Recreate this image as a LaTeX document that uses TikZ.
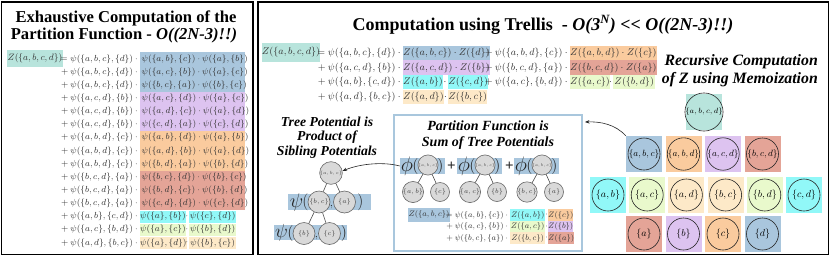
\RequirePackage{fix-cm}
\documentclass[tikz,border=0pt]{standalone}
\usepackage{fontspec}
\setmainfont{Liberation Serif}
\usetikzlibrary{arrows.meta}
\definecolor{cabcd}{HTML}{B8E4DC}
\definecolor{cblue}{HTML}{A9C6DD}
\definecolor{corange}{HTML}{FACB9E}
\definecolor{clav}{HTML}{DDC3F0}
\definecolor{csalmon}{HTML}{E4A497}
\definecolor{ccyan}{HTML}{91F8F8}
\definecolor{cgreen}{HTML}{E9F9CC}
\definecolor{cpeach}{HTML}{FDE9C8}
\definecolor{pfblue}{HTML}{A9C7DD}
\definecolor{eqtext}{HTML}{333333}
\newcommand{\Ps}[2]{\psi(\{#1\},\{#2\})}
\newcommand{\Zs}[1]{Z(\{#1\})}
\begin{document}
\begin{tikzpicture}[x=1pt,y=-1pt,
 panel/.style={draw=black,line width=1.6pt},
 ttl/.style={font=\fontsize{16.6}{17}\selectfont\bfseries,inner sep=0pt},
 bttl/.style={font=\fontsize{18}{18}\selectfont\bfseries,inner sep=0pt},
 subA/.style={font=\fontsize{13.7}{14.5}\selectfont\bfseries\itshape,align=center,inner sep=0pt},
 subB/.style={font=\fontsize{14}{16}\selectfont\bfseries\itshape,align=center,inner sep=0pt},
 subC/.style={font=\fontsize{15.8}{18}\selectfont\bfseries\itshape,align=right,inner sep=0pt},
 leq/.style={font=\fontsize{8.8}{9}\selectfont,text=eqtext,inner sep=0pt},
 req/.style={font=\fontsize{9.8}{10}\selectfont,text=eqtext,inner sep=0pt},
 peq/.style={font=\fontsize{8}{9}\selectfont,text=eqtext,inner sep=0pt},
 hl/.style={fill=#1,inner sep=0pt},
 msq/.style={fill=#1,minimum size=36pt,inner sep=0pt},
 mc/.style={circle,draw=black!85,line width=0.6pt,minimum size=32pt,inner sep=0pt,font=\fontsize{#1}{#1}\selectfont},
 tc/.style={circle,draw=black!60,fill=gray!30,line width=0.6pt,minimum size=#1,inner sep=0pt,text=black!75},
 edge/.style={draw=black!70,line width=0.6pt},
 big/.style={font=\fontsize{#1}{#1}\selectfont,inner sep=0pt,text=black!85},
 arr/.style={-{Stealth[length=4.5pt,width=3.5pt]},line width=0.6pt,draw=black!85},
]
\useasboundingbox (0,0) rectangle (831,258);
\fill[white] (0,0) rectangle (831,258);

% ---------------- left panel ----------------
\draw[panel] (1.5,2) rectangle (253,254.5);
\node[ttl] (lt1) at (126,18) {Exhaustive Computation of the};
\node[ttl] (lt2) at (124,35.5) {Partition Function - \textit{O((2N-3)!!)}};

\fill[cblue] (140,52.2) rectangle (245,91.7);
\fill[clav] (140,91.7) rectangle (245,131.15);
\fill[corange] (140,131.15) rectangle (245,170.6);
\fill[csalmon] (140,170.6) rectangle (245,210.05);

\node[leq,hl=cabcd,minimum width=56pt,minimum height=17pt,font=\fontsize{9.2}{10}\selectfont] (lz) at (35,58.5) {$\Zs{a,b,c,d}$};

\node[leq,anchor=east] (l0) at (140,58.8) {$=\Ps{a,b,c}{d}\cdot{}$};
\node[leq,anchor=west] (h0) at (141.5,58.8) {$\Ps{a,b}{c}\cdot\Ps{a}{b}$};
\node[leq,anchor=east] (l1) at (140,71.95) {${}+\Ps{a,b,c}{d}\cdot{}$};
\node[leq,anchor=west] (h1) at (141.5,71.95) {$\Ps{a,c}{b}\cdot\Ps{a}{c}$};
\node[leq,anchor=east] (l2) at (140,85.1) {${}+\Ps{a,b,c}{d}\cdot{}$};
\node[leq,anchor=west] (h2) at (141.5,85.1) {$\Ps{b,c}{a}\cdot\Ps{b}{c}$};
\node[leq,anchor=east] (l3) at (140,98.25) {${}+\Ps{a,c,d}{b}\cdot{}$};
\node[leq,anchor=west] (h3) at (141.5,98.25) {$\Ps{a,c}{d}\cdot\Ps{a}{c}$};
\node[leq,anchor=east] (l4) at (140,111.4) {${}+\Ps{a,c,d}{b}\cdot{}$};
\node[leq,anchor=west] (h4) at (141.5,111.4) {$\Ps{a,d}{c}\cdot\Ps{a}{d}$};
\node[leq,anchor=east] (l5) at (140,124.55) {${}+\Ps{a,c,d}{b}\cdot{}$};
\node[leq,anchor=west] (h5) at (141.5,124.55) {$\Ps{c,d}{a}\cdot\Ps{c}{d}$};
\node[leq,anchor=east] (l6) at (140,137.7) {${}+\Ps{a,b,d}{c}\cdot{}$};
\node[leq,anchor=west] (h6) at (141.5,137.7) {$\Ps{a,b}{d}\cdot\Ps{a}{b}$};
\node[leq,anchor=east] (l7) at (140,150.85) {${}+\Ps{a,b,d}{c}\cdot{}$};
\node[leq,anchor=west] (h7) at (141.5,150.85) {$\Ps{a,d}{b}\cdot\Ps{a}{d}$};
\node[leq,anchor=east] (l8) at (140,164) {${}+\Ps{a,b,d}{c}\cdot{}$};
\node[leq,anchor=west] (h8) at (141.5,164) {$\Ps{b,d}{a}\cdot\Ps{b}{d}$};
\node[leq,anchor=east] (l9) at (140,177.15) {${}+\Ps{b,c,d}{a}\cdot{}$};
\node[leq,anchor=west] (h9) at (141.5,177.15) {$\Ps{b,c}{d}\cdot\Ps{b}{c}$};
\node[leq,anchor=east] (l10) at (140,190.3) {${}+\Ps{b,c,d}{a}\cdot{}$};
\node[leq,anchor=west] (h10) at (141.5,190.3) {$\Ps{b,d}{c}\cdot\Ps{b}{d}$};
\node[leq,anchor=east] (l11) at (140,203.45) {${}+\Ps{b,c,d}{a}\cdot{}$};
\node[leq,anchor=west] (h11) at (141.5,203.45) {$\Ps{c,d}{d}\cdot\Ps{c}{d}$};

\node[leq,anchor=east] (l12) at (140,216.6) {${}+\Ps{a,b}{c,d}\cdot{}$};
\node[leq,hl=ccyan,anchor=west,minimum width=45pt,minimum height=12pt] (h12a) at (140,216.6) {$\Ps{a}{b}$};
\node[leq] (d12) at (187,216.6) {$\cdot$};
\node[leq,hl=ccyan,anchor=west,minimum width=47pt,minimum height=12pt] (h12b) at (189,216.6) {$\Ps{c}{d}$};
\node[leq,anchor=east] (l13) at (140,229.75) {${}+\Ps{a,c}{b,d}\cdot{}$};
\node[leq,hl=cgreen,anchor=west,minimum width=45pt,minimum height=12pt] (h13a) at (140,229.75) {$\Ps{a}{c}$};
\node[leq] (d13) at (187,229.75) {$\cdot$};
\node[leq,hl=cgreen,anchor=west,minimum width=47pt,minimum height=12pt] (h13b) at (189,229.75) {$\Ps{b}{d}$};
\node[leq,anchor=east] (l14) at (140,242.9) {${}+\Ps{a,d}{b,c}\cdot{}$};
\node[leq,hl=cpeach,anchor=west,minimum width=45pt,minimum height=12pt] (h14a) at (140,242.9) {$\Ps{a}{d}$};
\node[leq] (d14) at (187,242.9) {$\cdot$};
\node[leq,hl=cpeach,anchor=west,minimum width=47pt,minimum height=12pt] (h14b) at (189,242.9) {$\Ps{b}{c}$};

% ---------------- right panel ----------------
\draw[panel] (258,2) rectangle (828.5,254.5);
\node[bttl] (rt) at (543,25) {Computation using Trellis\ \ - \textit{O(3\textsuperscript{N}) {<}{<} O((2N-3)!!)}};
\node[subC,anchor=east] (ml) at (818,71) {Recursive Computation\\of Z using Memoization};

\node[req,hl=cabcd,minimum width=58pt,minimum height=19pt] (rz) at (291,52.5) {$\Zs{a,b,c,d}$};
\node[req,anchor=east] (r0a) at (403,53) {$=\Ps{a,b,c}{d}\cdot{}$};
\node[req,hl=cblue,anchor=west,minimum width=85pt,minimum height=14.6pt] (r0b) at (403,53) {$\Zs{a,b,c}\cdot\Zs{d}$};
\node[req,anchor=east] (r0c) at (570,53) {${}+\Ps{a,b,d}{c}\cdot{}$};
\node[req,hl=corange,anchor=west,minimum width=85pt,minimum height=14.6pt] (r0d) at (570,53) {$\Zs{a,b,d}\cdot\Zs{c}$};

\node[req,anchor=east] (r1a) at (403,67.6) {${}+\Ps{a,c,d}{b}\cdot{}$};
\node[req,hl=clav,anchor=west,minimum width=85pt,minimum height=14.6pt] (r1b) at (403,67.6) {$\Zs{a,c,d}\cdot\Zs{b}$};
\node[req,anchor=east] (r1c) at (570,67.6) {${}+\Ps{b,c,d}{a}\cdot{}$};
\node[req,hl=csalmon,anchor=west,minimum width=85pt,minimum height=14.6pt] (r1d) at (570,67.6) {$\Zs{b,c,d}\cdot\Zs{a}$};

\node[req,anchor=east] (r2a) at (403,82.2) {${}+\Ps{a,b}{c,d}\cdot{}$};
\node[req,hl=ccyan,anchor=west,minimum width=39pt,minimum height=14pt] (r2b) at (403,82.2) {$\Zs{a,b}$};
\node[req] (r2x) at (445,82.2) {$\cdot$};
\node[req,hl=ccyan,anchor=west,minimum width=40pt,minimum height=14pt] (r2c) at (448,82.2) {$\Zs{c,d}$};
\node[req,anchor=east] (r2d) at (570,82.2) {${}+\Ps{a,c}{b,d}\cdot{}$};
\node[req,hl=cgreen,anchor=west,minimum width=38pt,minimum height=14pt] (r2e) at (570,82.2) {$\Zs{a,c}$};
\node[req] (r2y) at (610.5,82.2) {$\cdot$};
\node[req,hl=cgreen,anchor=west,minimum width=42pt,minimum height=14pt] (r2f) at (613,82.2) {$\Zs{b,d}$};

\node[req,anchor=east] (r3a) at (403,96.8) {${}+\Ps{a,d}{b,c}\cdot{}$};
\node[req,hl=cpeach,anchor=west,minimum width=40pt,minimum height=14pt] (r3b) at (403,96.8) {$\Zs{a,d}$};
\node[req] (r3x) at (445.5,96.8) {$\cdot$};
\node[req,hl=cpeach,anchor=west,minimum width=39pt,minimum height=14pt] (r3c) at (448,96.8) {$\Zs{b,c}$};

% ---- tree potential ----
\node[subA] (tt) at (327,137.5) {Tree Potential is\\Product of\\Sibling Potentials};
\node[hl=cblue,minimum width=83pt,minimum height=16pt] (th1) at (329.5,202) {};
\node[hl=cblue,minimum width=73pt,minimum height=15pt] (th2) at (310.5,232.5) {};
\node[tc=22pt,font=\fontsize{4.5}{5}\selectfont] (troot) at (331,173) {$\{a,b,c\}$};
\node[tc=22pt,font=\fontsize{6.5}{7}\selectfont] (tbc) at (319,202) {$\{b,c\}$};
\node[tc=22pt,font=\fontsize{6.5}{7}\selectfont] (ta) at (344.5,202) {$\{a\}$};
\node[tc=22pt,font=\fontsize{6.5}{7}\selectfont] (tb) at (304,233.5) {$\{b\}$};
\node[tc=22pt,font=\fontsize{6.5}{7}\selectfont] (tcc) at (329.5,233.5) {$\{c\}$};
\draw[edge] (troot) -- (tbc);
\draw[edge] (troot) -- (ta);
\draw[edge] (tbc) -- (tb);
\draw[edge] (tbc) -- (tcc);
\node[big=20] (tpsi1) at (296.5,202) {$\psi$};
\node[big=17] (tpo1) at (305.5,202) {$($};
\node[big=12] (tcm1) at (331.5,207) {$,$};
\node[big=17] (tpc1) at (360.5,202) {$)$};
\node[big=19] (tpsi2) at (281.5,233) {$\psi$};
\node[big=16] (tpo2) at (290.5,233) {$($};
\node[big=12] (tcm2) at (316.5,238) {$,$};
\node[big=16] (tpc2) at (344,233) {$)$};

% ---- partition function box ----
\node[draw=pfblue,line width=2.5pt,minimum width=188pt,minimum height=136pt,inner sep=0pt] (pf) at (488,183) {};
\node[subB] (pt) at (488,135) {Partition Function is\\Sum of Tree Potentials};
\foreach \g/\cx/\la/\lb in {1/428/{a,b}/{c},2/485/{a,c}/{b},3/542/{b,c}/{a}}{
  \node[hl=cblue,minimum width=45pt,minimum height=16pt] (phg\g) at (\cx-5.5,166) {};
  \node[big=21] (phi\g) at (\cx-21,166) {$\phi$};
  \node[big=16] (pho\g) at (\cx-12.5,166) {$($};
  \node[big=16] (phc\g) at (\cx+12.5,166) {$)$};
  \node[tc=19pt,font=\fontsize{4}{4}\selectfont] (pp\g) at (\cx,165) {$\{a,b,c\}$};
  \node[tc=19pt,font=\fontsize{6.5}{7}\selectfont] (pa\g) at (\cx-15,192) {$\{\la\}$};
  \node[tc=19pt,font=\fontsize{6.5}{7}\selectfont] (pb\g) at (\cx+12,192) {$\{\lb\}$};
  \draw[edge] (pp\g) -- (pa\g);
  \draw[edge] (pp\g) -- (pb\g);
}
\node[big=15,font=\fontsize{15}{15}\selectfont\bfseries] (plus1) at (451.5,166) {+};
\node[big=15,font=\fontsize{15}{15}\selectfont\bfseries] (plus2) at (509.5,166) {+};

\node[peq,hl=cblue,minimum width=42pt,minimum height=14pt] (pz) at (429,214.5) {$\Zs{a,b,c}$};
\node[peq,anchor=east] (pr0a) at (510,215) {$=\Ps{a,b}{c}\cdot{}$};
\node[peq,hl=ccyan,anchor=west,minimum width=35pt,minimum height=11.5pt] (pr0b) at (510,215) {$\Zs{a,b}$};
\node[peq] (pr0x) at (546.5,215) {$\cdot$};
\node[peq,hl=corange,anchor=west,minimum width=25pt,minimum height=11.5pt] (pr0c) at (548,215) {$\Zs{c}$};
\node[peq,anchor=east] (pr1a) at (510,226.5) {${}+\Ps{a,c}{b}\cdot{}$};
\node[peq,hl=cgreen,anchor=west,minimum width=35pt,minimum height=11.5pt] (pr1b) at (510,226.5) {$\Zs{a,c}$};
\node[peq] (pr1x) at (546.5,226.5) {$\cdot$};
\node[peq,hl=clav,anchor=west,minimum width=25pt,minimum height=11.5pt] (pr1c) at (548,226.5) {$\Zs{b}$};
\node[peq,anchor=east] (pr2a) at (510,238) {${}+\Ps{b,c}{a}\cdot{}$};
\node[peq,hl=cpeach,anchor=west,minimum width=35pt,minimum height=11.5pt] (pr2b) at (510,238) {$\Zs{b,c}$};
\node[peq] (pr2x) at (546.5,238) {$\cdot$};
\node[peq,hl=csalmon,anchor=west,minimum width=25pt,minimum height=11.5pt] (pr2c) at (548,238) {$\Zs{a}$};

% ---- memoization trellis ----
\node[msq=cabcd] (sabcd) at (704,112) {};
\node[mc=7.5] (mabcd) at (sabcd) {$\{a,b,c,d\}$};
\node[msq=cblue] (sabc) at (644,154) {};
\node[mc=9] (mabc) at (sabc) {$\{a,b,c\}$};
\node[msq=corange] (sabd) at (683.5,154) {};
\node[mc=9] (mabd) at (sabd) {$\{a,b,d\}$};
\node[msq=clav] (sacd) at (723,154) {};
\node[mc=9] (macd) at (sacd) {$\{a,c,d\}$};
\node[msq=csalmon] (sbcd) at (762.5,154) {};
\node[mc=9] (mbcd) at (sbcd) {$\{b,c,d\}$};
\node[msq=ccyan] (sab) at (608,195) {};
\node[mc=10] (mab) at (sab) {$\{a,b\}$};
\node[msq=cgreen] (sac) at (647.2,195) {};
\node[mc=10] (mac) at (sac) {$\{a,c\}$};
\node[msq=cpeach] (sad) at (686.4,195) {};
\node[mc=10] (mad) at (sad) {$\{a,d\}$};
\node[msq=cpeach] (sbc) at (725.6,195) {};
\node[mc=10] (mbc) at (sbc) {$\{b,c\}$};
\node[msq=cgreen] (sbd) at (764.8,195) {};
\node[mc=10] (mbd) at (sbd) {$\{b,d\}$};
\node[msq=ccyan] (scd) at (804,195) {};
\node[mc=10] (mcd) at (scd) {$\{c,d\}$};
\node[msq=csalmon] (sa) at (644,234) {};
\node[mc=10] (ma) at (sa) {$\{a\}$};
\node[msq=clav] (sb) at (683.5,234) {};
\node[mc=10] (mb) at (sb) {$\{b\}$};
\node[msq=corange] (sc) at (723,234) {};
\node[mc=10] (mc) at (sc) {$\{c\}$};
\node[msq=cblue] (sd) at (762.5,234) {};
\node[mc=10] (md) at (sd) {$\{d\}$};

% ---- arrows ----
\coordinate (pfin) at (585,122);
\draw[arr] (sabc.north west) .. controls (615,124) and (600,121.5) .. (pfin);
\draw[arr] (phg1.west) .. controls (385,162) and (362,163) .. (troot.10);
\end{tikzpicture}
\end{document}
